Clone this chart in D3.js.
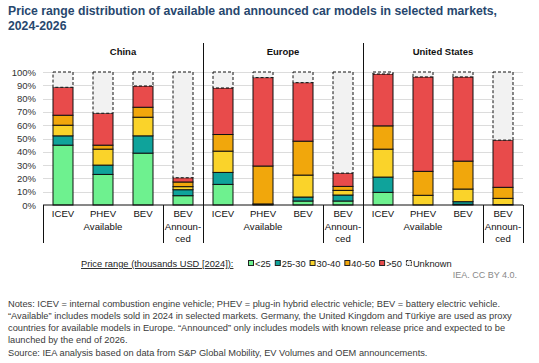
<!DOCTYPE html>
<html><head><meta charset="utf-8">
<script src="https://cdn.jsdelivr.net/npm/d3@7"></script>
<style>
body{margin:0;background:#fff;}
svg{display:block;font-family:"Liberation Sans",Arial,sans-serif;}
</style></head>
<body>
<svg id="chart" width="539" height="363"></svg>
<script>
const regions = ["China","Europe","United States"];
const categories = ["ICEV","PHEV","BEV","BEV Announced"];
const seriesNames = ["<25","25-30","30-40","40-50",">50","Unknown"];
const colors = ["#6ef18f","#0fa39b","#fad32a","#f1a70c","#e84b4b","#f2f2f2"];
// values per bar (China x4, Europe x4, United States x4), percent
const lt25   = [45, 23, 39, 7,    15.5, 0.5, 3, 3,    9.5, 0, 0.5, 0];
const s25_30 = [7, 7, 13, 4.5,    9, 0, 3, 4.5,       11.5, 0, 2, 0.3];
const s30_40 = [8, 12, 14, 2.3,   16, 0.3, 16.5, 3.5, 21, 7.3, 9.5, 4.7];
const s40_50 = [7.5, 3, 7.5, 3.5, 12.5, 28.5, 25.5, 3, 17.5, 18, 21, 8.3];
const gt50   = [21, 24, 16, 3.2,  35, 66.5, 44, 10,   39, 71, 63.3, 35.5];
const unknown= [11.5, 31, 10.5, 79.5, 12, 4.2, 8, 76, 1.5, 3.7, 3.7, 51.2];
const yTicks = [0,10,20,30,40,50,60,70,80,90,100];

const seriesValues = [lt25, s25_30, s30_40, s40_50, gt50, unknown];
const keys = [];
regions.forEach(r => categories.forEach(c => keys.push(r + "|" + c)));
const rows = keys.map((k, i) => {
  const o = {key: k};
  seriesNames.forEach((s, j) => o[s] = seriesValues[j][i]);
  return o;
});

const svg = d3.select("#chart");
const x = d3.scaleBand().domain(keys).range([43, 523]).paddingInner(0.5).paddingOuter(0.25);
const y = d3.scaleLinear().domain([0, 100]).range([205, 72]);
const color = d3.scaleOrdinal().domain(seriesNames).range(colors);

function fitText(sel, width) {
  const n = sel.node();
  const fs = parseFloat(sel.attr("font-size"));
  const w = n.getComputedTextLength();
  sel.attr("font-size", fs * width / w);
}

// title
const titleLines = ["Price range distribution of available and announced car models in selected markets,", "2024-2026"];
const t1 = svg.append("text").attr("x", 8).attr("y", 14.5).attr("font-weight", "bold")
  .attr("font-size", 12.8).attr("fill", "#27476e").text(titleLines[0]);
const w1 = t1.node().getComputedTextLength();
t1.attr("textLength", 489).attr("lengthAdjust", "spacingAndGlyphs");
const t2 = svg.append("text").attr("x", 8).attr("y", 29.5).attr("font-weight", "bold")
  .attr("font-size", 12.8).attr("fill", "#27476e").text(titleLines[1]);
const w2 = t2.node().getComputedTextLength();
t2.attr("textLength", w2 * 489 / w1).attr("lengthAdjust", "spacingAndGlyphs");

// gridlines
svg.append("g").selectAll("line").data(yTicks.filter(d => d > 0)).join("line")
  .attr("x1", 43).attr("x2", 523).attr("y1", d => Math.round(y(d)) + 0.5).attr("y2", d => Math.round(y(d)) + 0.5)
  .attr("stroke", "#dcdcdc").attr("stroke-width", 1);

// y axis labels
const yAxis = d3.axisLeft(y).tickValues(yTicks).tickFormat(d => d + "%").tickSize(0).tickPadding(0);
const yg = svg.append("g").attr("transform", "translate(36,0)").call(yAxis);
yg.select(".domain").remove();
yg.selectAll("text").attr("font-size", 9.5).attr("fill", "#333").attr("font-family", "Liberation Sans, Arial, sans-serif");

// stacked bars
const stack = d3.stack().keys(seriesNames);
const stacked = stack(rows);
const layers = svg.append("g").selectAll("g").data(stacked).join("g")
  .attr("fill", d => color(d.key));
layers.selectAll("rect").data(d => d.map(p => ({p, key: d.key}))).join("rect")
  .attr("x", d => x(d.p.data.key))
  .attr("width", x.bandwidth())
  .attr("y", d => y(d.p[1]))
  .attr("height", d => Math.max(0, y(d.p[0]) - y(d.p[1])))
  .attr("stroke", "#111")
  .attr("stroke-width", d => (d.p[1] - d.p[0]) > 0 ? 1 : 0)
  .attr("stroke-dasharray", d => d.key === "Unknown" ? "3,2" : null);

// bottom axis line
svg.append("line").attr("x1", 43).attr("x2", 523).attr("y1", y(0)).attr("y2", y(0))
  .attr("stroke", "#111").attr("stroke-width", 1);

// dividers
const bandStep = x.step();
const groupEdges = [];
regions.forEach(r => groupEdges.push(x(r + "|ICEV") - x.paddingOuter() * bandStep));
groupEdges.push(523);
const lowDividers = [43, 523];
regions.forEach(r => lowDividers.push(x(r + "|BEV Announced") - (x.paddingInner() * bandStep) / 2));
svg.append("g").selectAll("line").data(lowDividers).join("line")
  .attr("x1", d => Math.round(d) + 0.5).attr("x2", d => Math.round(d) + 0.5)
  .attr("y1", y(0)).attr("y2", 243).attr("stroke", "#111");
svg.append("g").selectAll("line").data(groupEdges.slice(1, 3)).join("line")
  .attr("x1", d => Math.round(d) + 0.5).attr("x2", d => Math.round(d) + 0.5)
  .attr("y1", 43).attr("y2", 243).attr("stroke", "#111");

// region headers
svg.append("g").selectAll("text").data(regions).join("text")
  .attr("x", (d, i) => (groupEdges[i] + groupEdges[i + 1]) / 2)
  .attr("y", 55).attr("text-anchor", "middle").attr("font-size", 9.5)
  .attr("font-weight", "bold").attr("fill", "#111").text(d => d);

// category labels
const catG = svg.append("g").attr("font-size", 9.6).attr("fill", "#111").attr("text-anchor", "middle");
keys.forEach(k => {
  const c = k.split("|")[1];
  const cx = x(k) + x.bandwidth() / 2;
  catG.append("text").attr("x", cx).attr("y", 217).text(c === "BEV Announced" ? "BEV" : c);
  if (c === "BEV Announced") {
    catG.append("text").attr("x", cx).attr("y", 230).text("Announ-");
    catG.append("text").attr("x", cx).attr("y", 242).text("ced");
  }
  if (c === "PHEV") {
    catG.append("text").attr("x", cx).attr("y", 230).text("Available");
  }
});

// legend
const lg = svg.append("g").attr("font-size", 9.3).attr("fill", "#222");
lg.append("text").attr("x", 81).attr("y", 267).attr("text-decoration", "underline")
  .text("Price range (thousands USD [2024]):");
let lx = 248;
seriesNames.forEach((s, i) => {
  lg.append("rect").attr("x", lx + 0.5).attr("y", 260.5).attr("width", 5).attr("height", 5)
    .attr("fill", color(s)).attr("stroke", "#222").attr("stroke-width", 1)
    .attr("stroke-dasharray", s === "Unknown" ? "2,1" : null);
  const tt = lg.append("text").attr("x", lx + 7).attr("y", 267).text(s);
  lx = lx + 7 + tt.node().getComputedTextLength() + 4;
});

// source credit
svg.append("text").attr("x", 517).attr("y", 278).attr("text-anchor", "end")
  .attr("font-size", 9).attr("fill", "#888").text("IEA. CC BY 4.0.");

// notes
const notes = [
  "Notes: ICEV = internal combustion engine vehicle; PHEV = plug-in hybrid electric vehicle; BEV = battery electric vehicle.",
  "\u201cAvailable\u201d includes models sold in 2024 in selected markets. Germany, the United Kingdom and T\u00fcrkiye are used as proxy",
  "countries for available models in Europe. \u201cAnnounced\u201d only includes models with known release price and expected to be",
  "launched by the end of 2026."
];
const ng = svg.append("g").attr("fill", "#3a3a3a");
const n0 = ng.append("text").attr("x", 8).attr("y", 307).attr("font-size", 9).text(notes[0]);
fitText(n0, 493);
const nfs = n0.attr("font-size");
notes.slice(1).forEach((t, i) => ng.append("text").attr("x", 8).attr("y", 307 + (i + 1) * 12).attr("font-size", nfs).text(t));
ng.append("text").attr("x", 8).attr("y", 356).attr("font-size", nfs)
  .text("Source: IEA analysis based on data from S&P Global Mobility, EV Volumes and OEM announcements.");
</script>
</body></html>
